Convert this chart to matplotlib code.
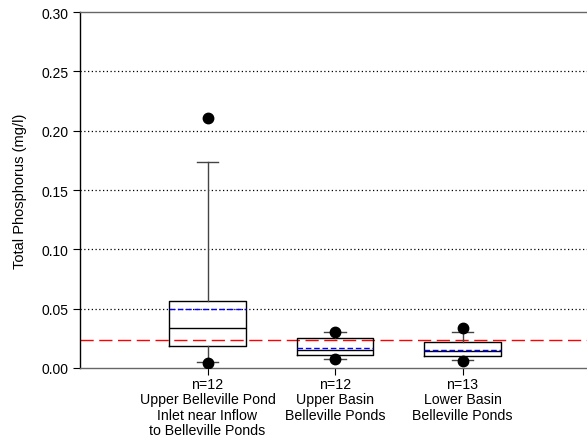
import matplotlib
matplotlib.use("Agg")
import matplotlib.pyplot as plt

plt.rcParams['font.family'] = ['Liberation Sans', 'DejaVu Sans']

labels = ["n=12\nUpper Belleville Pond\nInlet near Inflow\nto Belleville Ponds",
          "n=12\nUpper Basin\nBelleville Ponds",
          "n=13\nLower Basin\nBelleville Ponds"]
q1 = [0.0183, 0.0110, 0.0097]
median = [0.0340, 0.0155, 0.0140]
q3 = [0.0562, 0.0250, 0.0216]
mean = [0.0497, 0.0172, 0.0155]
whislo = [0.0048, 0.0080, 0.0065]
whishi = [0.1740, 0.0300, 0.0300]
fliers = [[0.211, 0.0045], [0.0300, 0.0078], [0.0334, 0.0063]]
reference_level = 0.024
yticks = [0.00, 0.05, 0.10, 0.15, 0.20, 0.25, 0.30]

W, H = 587, 439
fig = plt.figure(figsize=(W / 100, H / 100), dpi=100)
ax = fig.add_axes([80 / W, 1 - 369 / H, 510 / W, 356 / H])

stats = []
for i in range(len(labels)):
    stats.append(dict(q1=q1[i], med=median[i], q3=q3[i], mean=mean[i],
                      whislo=whislo[i], whishi=whishi[i], fliers=fliers[i], label=""))

positions = [1, 2, 3]
ax.bxp(stats, positions=positions, widths=0.6, showmeans=True, meanline=True,
       boxprops=dict(color='black', linewidth=1.0),
       medianprops=dict(color='black', linewidth=1.0),
       meanprops=dict(color='blue', linewidth=1.0, linestyle=(0, (4, 2))),
       whiskerprops=dict(color='#444444', linewidth=1.0),
       capprops=dict(color='#444444', linewidth=1.0),
       capwidths=0.17,
       flierprops=dict(marker='o', markerfacecolor='black', markeredgecolor='black',
                       markersize=7.5, linestyle='none'),
       zorder=3)

ax.axhline(reference_level, color='red', linewidth=1.0, dashes=(9.5, 4), zorder=2)

ax.set_xlim(0, 4)
ax.set_ylim(0, 0.30)
ax.set_yticks(yticks)
ax.set_yticklabels([f"{v:.2f}" for v in yticks], fontsize=10)
ax.set_xticks(positions)
ax.set_xticklabels(labels, fontsize=10.2, linespacing=1.13)
ax.tick_params(axis='both', direction='out', length=5, width=0.8, colors='black')
ax.tick_params(axis='x', pad=1.5)
for v in yticks[1:-1]:
    ax.axhline(v, color='black', linewidth=0.9, linestyle=(0, (1, 2)), zorder=1)

ax.set_ylabel("Total Phosphorus (mg/l)", fontsize=10.5, labelpad=10)
ax.spines['right'].set_visible(False)
ax.spines['top'].set_color('#666666')
ax.spines['bottom'].set_color('#666666')
ax.spines['left'].set_color('black')
for s in ax.spines.values():
    s.set_linewidth(1.0)

fig.savefig("out.png", dpi=100)
